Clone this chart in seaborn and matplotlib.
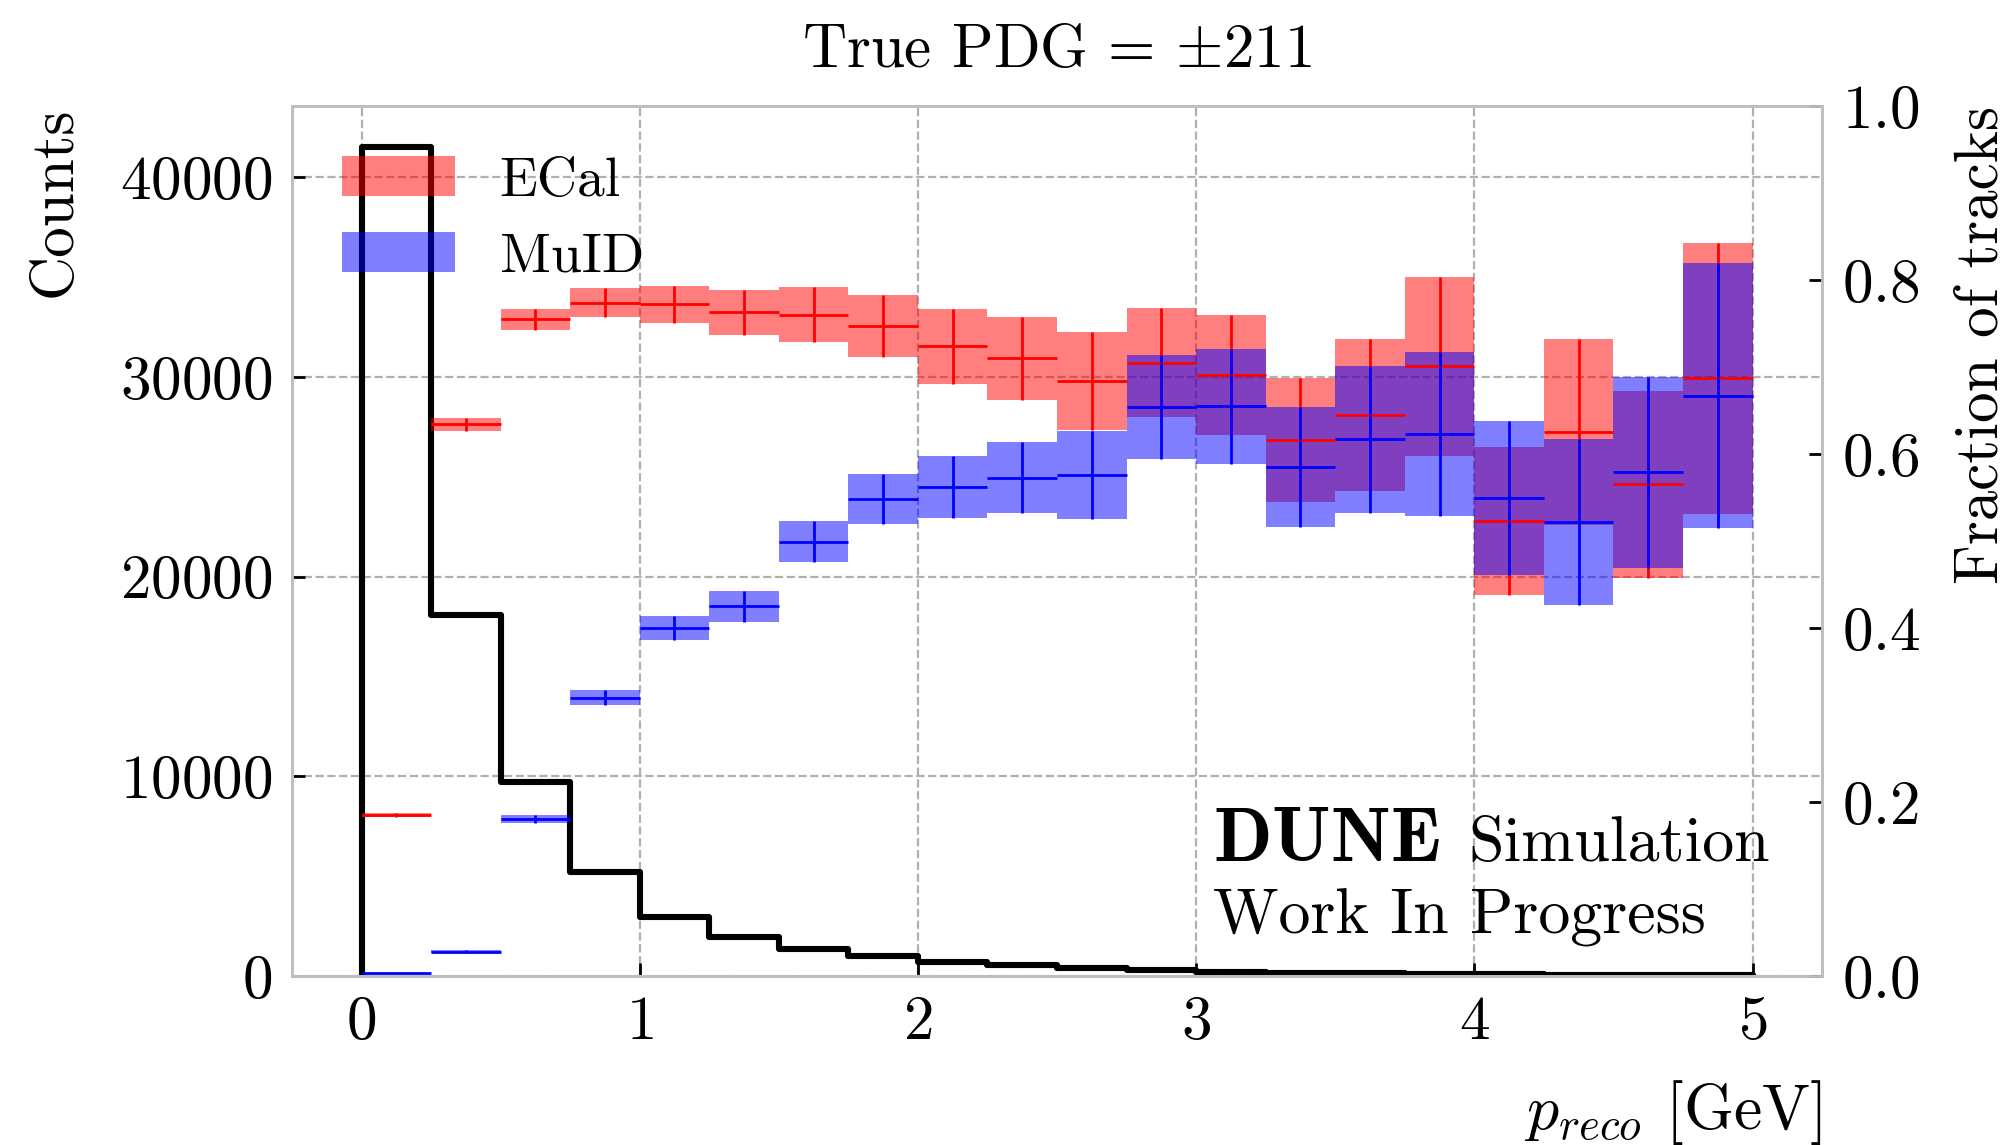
import numpy as np
import pandas as pd
import matplotlib
matplotlib.use("Agg")
import matplotlib.pyplot as plt
import seaborn as sns
from matplotlib.patches import Patch

# ---------------- data ----------------
bin_edges = [0.0, 0.25, 0.5, 0.75, 1.0, 1.25, 1.5, 1.75, 2.0, 2.25, 2.5,
             2.75, 3.0, 3.25, 3.5, 3.75, 4.0, 4.25, 4.5, 4.75, 5.0]
counts = [41500, 18100, 9700, 5200, 2980, 1970, 1340, 1000, 680, 540,
          380, 280, 220, 170, 140, 110, 90, 70, 60, 45]
ecal_frac = [0.185, 0.634, 0.755, 0.774, 0.772, 0.763, 0.760, 0.747, 0.724, 0.710,
             0.684, 0.705, 0.691, 0.616, 0.645, 0.701, 0.523, 0.625, 0.565, 0.687]
ecal_err = [0.002, 0.0075, 0.012, 0.0165, 0.0215, 0.026, 0.0315, 0.0355, 0.043, 0.0475,
            0.0565, 0.0625, 0.069, 0.071, 0.087, 0.103, 0.0855, 0.107, 0.108, 0.1555]
muid_frac = [0.003, 0.028, 0.180, 0.320, 0.400, 0.425, 0.499, 0.548, 0.562, 0.573,
             0.576, 0.654, 0.655, 0.585, 0.617, 0.623, 0.550, 0.522, 0.579, 0.667]
muid_err = [0.001, 0.002, 0.0046, 0.009, 0.0135, 0.0176, 0.0235, 0.0285, 0.036, 0.041,
            0.0505, 0.0595, 0.066, 0.0685, 0.0845, 0.094, 0.0885, 0.095, 0.1095, 0.1525]
x_ticks = [0, 1, 2, 3, 4, 5]
count_ticks = [0, 10000, 20000, 30000, 40000]
frac_ticks = [0.0, 0.2, 0.4, 0.6, 0.8, 1.0]

edges = np.array(bin_edges)
centers = 0.5 * (edges[:-1] + edges[1:])
widths = np.diff(edges)

# ---------------- style ----------------
sns.set_style("ticks")
plt.rcParams.update({
    "font.family": "serif",
    "font.serif": ["cmr10"],
    "mathtext.fontset": "cm",
    "axes.formatter.use_mathtext": True,
    "axes.unicode_minus": False,
    "text.color": "black",
    "axes.labelcolor": "black",
    "xtick.color": "black",
    "ytick.color": "black",
})

fig = plt.figure(figsize=(10.04, 5.725), dpi=200)
ax = fig.add_axes([0.1454, 0.1476, 0.7620, 0.7598])

df = pd.DataFrame({"p": centers, "n": counts})
sns.histplot(data=df, x="p", weights="n", bins=list(bin_edges), element="step",
             fill=False, color="black", linewidth=2.2, ax=ax)
# close the outline down to the baseline at both ends
ax.vlines([edges[0], edges[-1]], 0, [counts[0], counts[-1]], color="black", linewidth=2.2)

ax.set_xlim(-0.25, 5.25)
ax.set_ylim(0, 1.05 * max(counts))
ax.set_xticks(x_ticks)
ax.set_yticks(count_ticks)
ax.grid(True, linestyle="--", color="#b0b0b0", linewidth=0.8)

ax2 = ax.twinx()
ax2.set_ylim(0, 1)
ax2.set_yticks(frac_ticks)

for frac, err, col in [(ecal_frac, ecal_err, "red"), (muid_frac, muid_err, "blue")]:
    frac = np.array(frac)
    err = np.array(err)
    ax2.bar(centers, 2 * err, bottom=frac - err, width=widths, color=col,
            alpha=0.5, linewidth=0)
    ax2.errorbar(centers, frac, xerr=widths / 2, yerr=err, fmt="none",
                 ecolor=col, elinewidth=1.0, capsize=0)

for a in (ax, ax2):
    for s in a.spines.values():
        s.set_color("#bfbfbf")
        s.set_linewidth(1.0)
ax.tick_params(axis="both", direction="in", length=4.8, width=1.0, color="black",
               labelsize=22, pad=7, top=False, right=False)
ax2.tick_params(axis="y", direction="in", length=4.8, width=1.0, color="black",
                labelsize=22, pad=7)

ax.set_xlabel(r"$p_{reco}$ [GeV]", loc="right", fontsize=23)
ax.xaxis.label.set_va("baseline")
ax.xaxis.set_label_coords(1.0, -0.176)
ax.set_ylabel("Counts", loc="top", fontsize=22, labelpad=13.5)
ax2.set_ylabel("Fraction of tracks", loc="top", fontsize=22, labelpad=12.5)
ax.set_title(r"True PDG = $\pm$211", fontsize=22, pad=14)

handles = [Patch(facecolor="red", alpha=0.5, linewidth=0, label="ECal"),
           Patch(facecolor="blue", alpha=0.5, linewidth=0, label="MuID")]
ax2.legend(handles=handles, loc="upper left", frameon=False, fontsize=20,
           handlelength=2.03, handleheight=0.74, handletextpad=0.81,
           labelspacing=0.45, borderaxespad=0.5)

ax.text(0.602, 0.132, r"$\mathbf{DUNE}$", transform=ax.transAxes,
        fontsize=27.5, ha="left", va="baseline")
ax.text(0.769, 0.132, "Simulation", transform=ax.transAxes,
        fontsize=23, ha="left", va="baseline")
ax.text(0.602, 0.049, "Work In Progress", transform=ax.transAxes,
        fontsize=23, ha="left", va="baseline")

fig.savefig("out.png", dpi=200)
